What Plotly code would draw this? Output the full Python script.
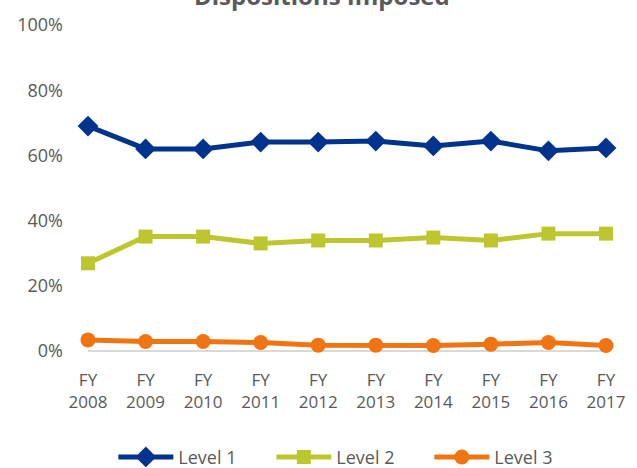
import plotly.graph_objects as go

years = ["FY<br>2008", "FY<br>2009", "FY<br>2010", "FY<br>2011", "FY<br>2012",
         "FY<br>2013", "FY<br>2014", "FY<br>2015", "FY<br>2016", "FY<br>2017"]
level1 = [0.690, 0.620, 0.620, 0.641, 0.641, 0.644, 0.629, 0.644, 0.614, 0.623]
level2 = [0.269, 0.351, 0.351, 0.330, 0.339, 0.339, 0.348, 0.339, 0.360, 0.360]
level3 = [0.034, 0.029, 0.029, 0.026, 0.018, 0.018, 0.017, 0.021, 0.026, 0.017]

names = ["Level 1", "Level 2", "Level 3"]
colors = ["#00338D", "#BDC62F", "#F07412"]
symbols = ["diamond", "square", "circle"]
sizes = [16, 14, 15]

fig = go.Figure()
for name, vals, c, s, sz in zip(names, [level1, level2, level3], colors, symbols, sizes):
    fig.add_trace(go.Scatter(
        x=list(range(len(years))), y=vals, name=name, mode="lines+markers",
        line=dict(color=c, width=5), marker=dict(symbol=s, size=sz, color=c),
        cliponaxis=False,
    ))

fig.add_annotation(text="<b>Dispositions Imposed</b>", xref="paper", yref="paper",
                   x=0.4525, y=1.092, xanchor="center", yanchor="middle",
                   showarrow=False, font=dict(size=24, color="#595959"))

fig.update_layout(
    width=637, height=468,
    margin=dict(l=88, r=23, t=23, b=117),
    plot_bgcolor="white", paper_bgcolor="white",
    font=dict(family="Open Sans, Calibri, Liberation Sans, sans-serif", color="#595959"),
    xaxis=dict(tickmode="array", tickvals=list(range(len(years))), ticktext=years,
               range=[0, 9], showgrid=False, zeroline=False, showline=False,
               tickfont=dict(size=17, color="#595959"), ticks="", ticklabelstandoff=17),
    yaxis=dict(range=[0, 1], tickvals=[0, 0.2, 0.4, 0.6, 0.8, 1.0], tickformat=".0%",
               showgrid=False, zeroline=True, zerolinecolor="#D9D9D9", zerolinewidth=1.5,
               tickfont=dict(size=18, color="#595959"), ticks="", ticklabelstandoff=24),
    legend=dict(orientation="h", x=0.55, xanchor="center", y=0.023, yanchor="middle",
                yref="container", xref="container",
                font=dict(size=18, color="#595959"), itemwidth=55,
                entrywidth=88, entrywidthmode="pixels", traceorder="normal"),
)

fig.write_html("out.html", config={"displayModeBar": False},
               post_script="document.body.style.margin='0';")
